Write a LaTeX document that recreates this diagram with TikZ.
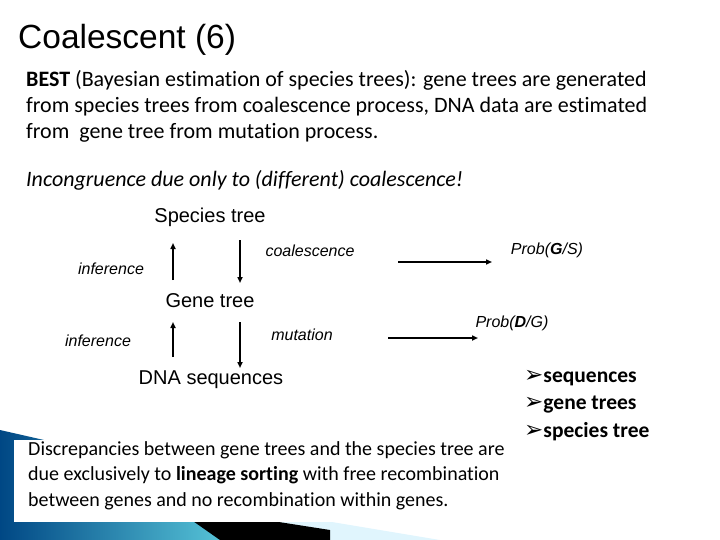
\documentclass[tikz,border=0pt]{standalone}
\usepackage{fontspec}
\setmainfont[Ligatures={NoCommon,NoContextual}]{Carlito}
\newfontfamily\arial{Liberation Sans}
\newfontfamily\dejav{DejaVu Sans}
\usetikzlibrary{arrows.meta}
\begin{document}
\begin{tikzpicture}[x=1pt,y=-1pt,
  lbl/.style={font=\arial\fontsize{20}{22}\selectfont,inner sep=0},
  ital/.style={font=\arial\itshape\fontsize{16}{18}\selectfont,inner sep=0},
  arr/.style={-{Triangle[length=6pt,width=5pt]},line width=1.5pt},
  body/.style={font=\fontsize{22}{26}\selectfont,align=left,anchor=north west,inner sep=0},
  bul/.style={font=\bfseries\fontsize{21.5}{22}\selectfont,anchor=west,inner sep=0}]
\useasboundingbox (0,0) rectangle (720,540);
% decoration
\shade[left color=teal!70!blue!80!black,right color=cyan!50!white] (0,430) -- (330,505) -- (330,540) -- (0,540) -- cycle;
\fill[cyan!12] (230,505) -- (440,540) -- (230,540) -- cycle;
\fill[black] (170,505) -- (330,530) -- (330,540) -- (220,540) -- cycle;
\fill[white] (14,440) rectangle (510,522);
% title
\node[anchor=west,inner sep=0,font=\arial\fontsize{33.5}{36}\selectfont] (title) at (18,40) {Coalescent (6)};
\node[body] (best) at (26,70) {\textbf{BEST} (Bayesian estimation of species trees): gene trees are generated\\from species trees from coalescence process, DNA data are estimated\\from\ \ gene tree from mutation process.};
\node[body,font=\itshape\fontsize{22}{26}\selectfont] (incon) at (26,170) {Incongruence due only to (different) coalescence!};
% diagram
\node[lbl] (st) at (210,217) {Species tree};
\node[lbl] (gt) at (210,301) {Gene tree};
\node[lbl] (dna) at (211,380) {DNA sequences};
\coordinate (u1s) at (173,280); \coordinate (u1e) at (173,243);
\coordinate (d1s) at (240,240); \coordinate (d1e) at (240,283);
\coordinate (u2s) at (173,357); \coordinate (u2e) at (173,322);
\coordinate (d2s) at (240,322); \coordinate (d2e) at (240,368);
\draw[arr] (u1s) -- (u1e);
\draw[arr] (d1s) -- (d1e);
\draw[arr] (u2s) -- (u2e);
\draw[arr] (d2s) -- (d2e);
\node[ital] (coal) at (310,251) {coalescence};
\node[ital] (inf1) at (111,269) {inference};
\node[ital] (inf2) at (98,341) {inference};
\node[ital] (mut) at (302,335) {mutation};
\coordinate (r1s) at (398,262); \coordinate (r1e) at (492,262);
\coordinate (r2s) at (388,338); \coordinate (r2e) at (478,338);
\draw[arr] (r1s) -- (r1e);
\draw[arr] (r2s) -- (r2e);
\node[ital] (pgs) at (547,250) {Prob(\textbf{G}/S)};
\node[ital] (pdg) at (512,323) {Prob(\textbf{D}/G)};
% bullets
\node[bul] (b1) at (524,378) {{\dejav\fontsize{23}{24}\selectfont ➢}sequences};
\node[bul] (b2) at (524,405) {{\dejav\fontsize{23}{24}\selectfont ➢}gene trees};
\node[bul] (b3) at (524,432) {{\dejav\fontsize{23}{24}\selectfont ➢}species tree};
% bottom text
\node[body,font=\fontsize{20}{25.5}\selectfont] (disc) at (28,441) {Discrepancies between gene trees and the species tree are\\due exclusively to \textbf{lineage sorting} with free recombination\\between genes and no recombination within genes.};
\end{tikzpicture}
\end{document}
